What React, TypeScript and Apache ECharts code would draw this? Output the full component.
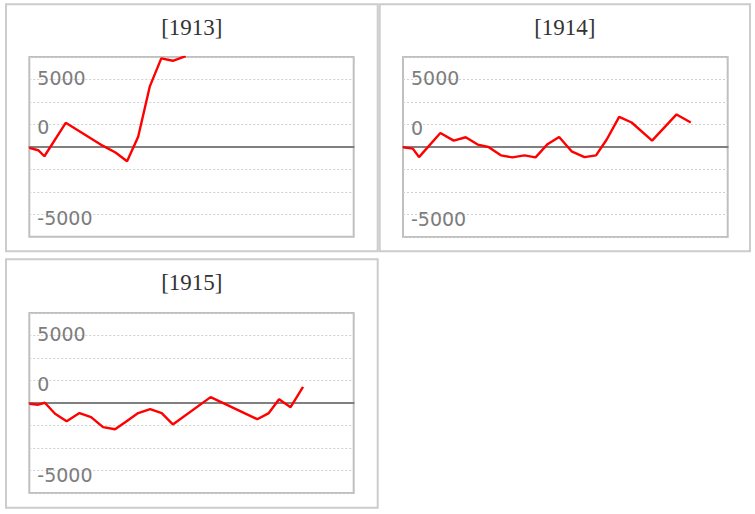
import React, { useEffect, useRef } from "react";
import * as echarts from "echarts";

// ---- data ----
const panelTitles = ["[1913]", "[1914]", "[1915]"];

// x: day-of-year position of each reading, y: value
const days1913 = [0, 10, 17, 41, 83, 97, 110, 122.5, 135.5, 148.5, 161.5, 176];
const values1913 = [-110, -370, -1040, 2680, 110, -630, -1600, 1120, 6700, 9850, 9580, 10100];

const days1914 = [0, 11, 18, 42, 57, 70.5, 84, 96, 110, 123, 136.5, 149, 162, 175.5, 189.5, 204, 217, 229, 243, 257, 280, 307.5, 323.5];
const values1914 = [-30, -180, -1120, 1560, 710, 1080, 270, 0, -930, -1150, -930, -1150, 270, 1120, -480, -1120, -930, 830, 3350, 2720, 710, 3620, 2720];

const days1915 = [0, 10, 17.5, 29, 42, 56.5, 69.5, 83, 96.5, 109.5, 122.5, 136, 149, 161.5, 204, 256.5, 269.5, 281, 294, 308];
const values1915 = [-80, -190, 30, -1190, -2020, -1120, -1570, -2680, -2920, -2020, -1120, -690, -1120, -2380, 650, -1800, -1120, 420, -460, 1790];

const tickValues = [7500, 2500, -7500];
const tickTexts = ["5000", "0", "-5000"];

const allDays = [days1913, days1914, days1915];
const allValues = [values1913, values1914, values1915];

// ---- layout (positions / styles) ----
const panels = [
  { x: 6, y: 4.3, w: 371.7, h: 247 },
  { x: 379.7, y: 4.3, w: 370.3, h: 247 },
  { x: 6, y: 259.3, w: 371.7, h: 248.4 },
];
const grids = [
  { left: 29.3, top: 57, width: 324.4, height: 179.8 },
  { left: 403, top: 57, width: 324.7, height: 180 },
  { left: 29.3, top: 313, width: 324.4, height: 180 },
];
const labelStyleKeys = ["up", "mid", "low"];

export default function App() {
  const ref = useRef<HTMLDivElement>(null);
  useEffect(() => {
    if (!ref.current) return;
    const chart = echarts.init(ref.current, undefined, { renderer: "svg" });
    const labelBase = { fontFamily: "DejaVu Sans", fontSize: 19, color: "#7d7d7d" };
    const option: any = {
      animation: false,
      backgroundColor: "#ffffff",
      title: panelTitles.map((t, i) => ({
        text: t,
        left: panels[i].x + panels[i].w / 2,
        top: panels[i].y + 12,
        textAlign: "center",
        padding: 0,
        textStyle: {
          fontFamily: "Liberation Serif",
          fontSize: 23,
          fontWeight: "normal",
          color: "#333333",
        },
      })),
      graphic: panels.map((p) => ({
        type: "rect",
        silent: true,
        shape: { x: p.x, y: p.y, width: p.w, height: p.h },
        style: { fill: "none", stroke: "#cccccc", lineWidth: 2 },
      })),
      grid: grids.map((g) => ({
        ...g,
        show: true,
        borderColor: "#c0c0c0",
        borderWidth: 2,
        backgroundColor: "transparent",
        containLabel: false,
      })),
      xAxis: grids.map((_, i) => ({
        type: "value",
        gridIndex: i,
        min: 0,
        max: 365,
        axisLine: { show: true, onZero: true, lineStyle: { color: "#808080", width: 2 } },
        axisTick: { show: false },
        axisLabel: { show: false },
        splitLine: { show: false },
      })),
      yAxis: grids.map((_, i) => ({
        type: "value",
        gridIndex: i,
        min: -10000,
        max: 10000,
        interval: 2500,
        axisLine: { show: false },
        axisTick: { show: false },
        axisLabel: {
          inside: true,
          margin: 8,
          ...labelBase,
          showMinLabel: true,
          showMaxLabel: true,
          formatter: (v: number) => {
            const k = tickValues.indexOf(v);
            return k >= 0 ? `{${labelStyleKeys[k]}|${tickTexts[k]}}` : "";
          },
          rich: {
            up: { ...labelBase, padding: [0, 0, 3, 0] },
            mid: { ...labelBase, padding: [6, 0, 0, 0] },
            low: { ...labelBase, padding: [8, 0, 0, 0] },
          },
        },
        splitLine: {
          show: true,
          lineStyle: { color: "#cfcfcf", width: 1, type: [2, 2] },
        },
      })),
      series: allDays.map((d, i) => ({
        type: "line",
        xAxisIndex: i,
        yAxisIndex: i,
        data: d.map((x, j) => [x, allValues[i][j]]),
        showSymbol: false,
        symbol: "none",
        clip: true,
        lineStyle: { color: "#ff0000", width: 2.4 },
        z: 3,
      })),
    };
    chart.setOption(option);
    return () => chart.dispose();
  }, []);
  return (
    <div
      ref={ref}
      style={{ position: "absolute", left: 0, top: 0, width: 755, height: 514 }}
    />
  );
}
